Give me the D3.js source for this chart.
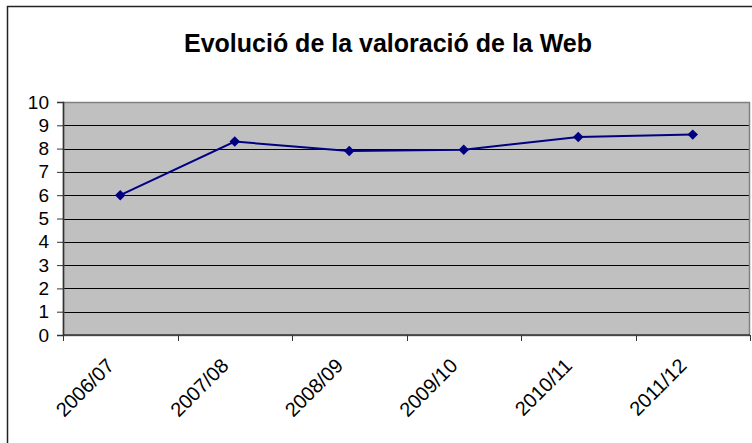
<!DOCTYPE html>
<html>
<head>
<meta charset="utf-8">
<script src="https://cdn.jsdelivr.net/npm/d3@7"></script>
<style>
  body { margin: 0; background: #fff; }
  svg { display: block; font-family: "Liberation Sans", Arial, sans-serif; }
</style>
</head>
<body>
<div id="chart"></div>
<script>
// Evolució de la valoració de la Web
const years = ["2006/07", "2007/08", "2008/09", "2009/10", "2010/11", "2011/12"];
const ratings = [6.0, 8.3, 7.9, 7.95, 8.5, 8.6];
const yTicks = [0, 1, 2, 3, 4, 5, 6, 7, 8, 9, 10];

const W = 752, H = 443;
const margin = { top: 102, right: 2, bottom: 108, left: 63 },
  width = W - margin.left - margin.right,
  height = H - margin.top - margin.bottom;

const svg = d3.select("#chart")
  .append("svg")
  .attr("width", W)
  .attr("height", H);

// outer chart border
svg.append("rect")
  .attr("x", 7.5).attr("y", 6.5)
  .attr("width", 800).attr("height", 800)
  .attr("fill", "none")
  .attr("stroke", "#222")
  .attr("stroke-width", 1.5);

svg.append("text")
  .attr("x", 388)
  .attr("y", 52)
  .attr("text-anchor", "middle")
  .style("font-size", "25px")
  .style("font-weight", "bold")
  .text("Evolució de la valoració de la Web");

const g = svg.append("g")
  .attr("transform", `translate(${margin.left},${margin.top})`);

const x = d3.scaleBand()
  .domain(years)
  .range([0, width]);

const y = d3.scaleLinear()
  .domain([0, 10])
  .range([height, 0]);

// plot background
g.append("rect")
  .attr("width", width).attr("height", height)
  .attr("fill", "#c0c0c0");

// gridlines
g.selectAll(".grid")
  .data(yTicks.filter(d => d > 0))
  .join("line")
  .attr("x1", 0).attr("x2", width)
  .attr("y1", d => Math.round(y(d)) + 0.5)
  .attr("y2", d => Math.round(y(d)) + 0.5)
  .attr("stroke", "#000")
  .attr("stroke-width", 1);

// plot area border
g.append("rect")
  .attr("x", 0.5).attr("y", 0.5)
  .attr("width", width - 1).attr("height", height)
  .attr("fill", "none")
  .attr("stroke", "#808080")
  .attr("stroke-width", 1.5);

// Y axis
const yAxis = g.append("g")
  .call(d3.axisLeft(y).tickValues(yTicks).tickSize(6).tickPadding(8).tickFormat(d3.format("d")));
yAxis.select(".domain").attr("stroke", "#333").attr("stroke-width", 1.5);
yAxis.selectAll(".tick line").attr("stroke", "#333");
yAxis.selectAll("text")
  .style("font-size", "19px")
  .style("font-family", "Liberation Sans, Arial, sans-serif")
  .attr("fill", "#000");

// X axis with ticks at category boundaries
const xAxis = g.append("g")
  .attr("transform", `translate(0,${height})`);
xAxis.append("line")
  .attr("x1", 0).attr("x2", width)
  .attr("stroke", "#333").attr("stroke-width", 1.5);
const bounds = years.map(d => x(d)).concat([width]);
xAxis.selectAll(".xt")
  .data(bounds)
  .join("line")
  .attr("x1", d => Math.round(d) + 0.5).attr("x2", d => Math.round(d) + 0.5)
  .attr("y1", 0).attr("y2", 6)
  .attr("stroke", "#333");
xAxis.selectAll(".xl")
  .data(years)
  .join("text")
  .attr("transform", d => `translate(${x(d) + x.bandwidth() / 2 - 5},${32}) rotate(-45)`)
  .attr("text-anchor", "end")
  .style("font-size", "20px")
  .text(d => d);

// line
const cx = d => x(d) + x.bandwidth() / 2;
g.append("path")
  .datum(years.map((d, i) => [cx(d), y(ratings[i])]))
  .attr("fill", "none")
  .attr("stroke", "#000080")
  .attr("stroke-width", 2)
  .attr("d", d3.line());

g.selectAll(".pt")
  .data(years)
  .join("path")
  .attr("transform", (d, i) => `translate(${cx(d)},${y(ratings[i])})`)
  .attr("d", d3.symbol(d3.symbolDiamond2, 70))
  .attr("fill", "#000080");
</script>
</body>
</html>
